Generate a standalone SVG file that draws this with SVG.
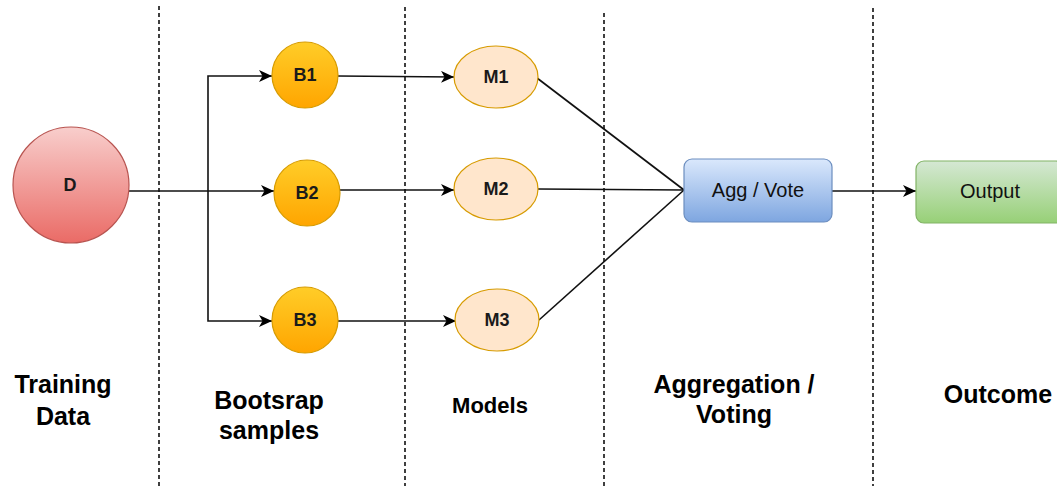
<svg xmlns="http://www.w3.org/2000/svg" width="1057" height="489" viewBox="0 0 1057 489">
  <defs>
    <linearGradient id="gRed" x1="0" y1="0" x2="0" y2="1">
      <stop offset="0" stop-color="#f8cecc"/>
      <stop offset="1" stop-color="#ea6b66"/>
    </linearGradient>
    <linearGradient id="gOrange" x1="0" y1="0" x2="0" y2="1">
      <stop offset="0" stop-color="#ffcd28"/>
      <stop offset="1" stop-color="#ffa500"/>
    </linearGradient>
    <linearGradient id="gBlue" x1="0" y1="0" x2="0" y2="1">
      <stop offset="0" stop-color="#dae8fc"/>
      <stop offset="1" stop-color="#7ea6e0"/>
    </linearGradient>
    <linearGradient id="gGreen" x1="0" y1="0" x2="0" y2="1">
      <stop offset="0" stop-color="#d5e8d4"/>
      <stop offset="1" stop-color="#97d077"/>
    </linearGradient>
    <marker id="arrow" markerUnits="userSpaceOnUse" markerWidth="16" markerHeight="14" refX="13" refY="6" orient="auto">
      <path d="M0,0 L13,6 L0,12 L3.5,6 Z" fill="#000"/>
    </marker>
  </defs>
  <style>
    .sep { stroke: #000; stroke-width: 1.5; stroke-dasharray: 4 3; fill: none; }
    .edge { stroke: #111; stroke-width: 1.6; fill: none; }
    .node-text { font-family: "Liberation Sans", Arial, sans-serif; font-size: 18px; font-weight: bold; fill: #1a1a1a; text-anchor: middle; dominant-baseline: central; }
    .box-text { font-family: "Liberation Sans", Arial, sans-serif; font-size: 20px; fill: #111; text-anchor: middle; dominant-baseline: central; }
    .stage { font-family: "Liberation Sans", Arial, sans-serif; font-size: 25px; font-weight: bold; fill: #000; text-anchor: middle; }
  </style>

  <rect width="1057" height="489" fill="#fff"/>

  <!-- column separators -->
  <g id="separators">
    <line class="sep" x1="159" y1="6" x2="159" y2="486"/>
    <line class="sep" x1="405" y1="7" x2="405" y2="486"/>
    <line class="sep" x1="604" y1="13" x2="604" y2="486"/>
    <line class="sep" x1="873" y1="8" x2="873" y2="486"/>
  </g>

  <!-- connectors -->
  <g id="connectors">
    <polyline class="edge" points="129,191 208,191"/>
    <polyline class="edge" points="208,191 208,76 272,76" marker-end="url(#arrow)"/>
    <polyline class="edge" points="208,191 274,191" marker-end="url(#arrow)"/>
    <polyline class="edge" points="208,191 208,321 272,321" marker-end="url(#arrow)"/>
    <line class="edge" x1="338" y1="76" x2="454" y2="77" marker-end="url(#arrow)"/>
    <line class="edge" x1="340" y1="190" x2="454" y2="190" marker-end="url(#arrow)"/>
    <line class="edge" x1="338" y1="321" x2="456" y2="321" marker-end="url(#arrow)"/>
    <line class="edge" x1="537" y1="78" x2="684" y2="190"/>
    <line class="edge" x1="538" y1="189" x2="684" y2="190"/>
    <line class="edge" x1="539" y1="320" x2="684" y2="190"/>
    <line class="edge" x1="832" y1="191" x2="916" y2="191" marker-end="url(#arrow)"/>
  </g>

  <!-- nodes -->
  <g id="node-D">
    <circle cx="71" cy="185" r="58" fill="url(#gRed)" stroke="#b85450" stroke-width="1.2"/>
    <text class="node-text" x="70" y="185">D</text>
  </g>
  <g id="node-B1">
    <circle cx="305" cy="75" r="33" fill="url(#gOrange)" stroke="#d79b00" stroke-width="1.2"/>
    <text class="node-text" x="305" y="75">B1</text>
  </g>
  <g id="node-B2">
    <circle cx="307" cy="193" r="33" fill="url(#gOrange)" stroke="#d79b00" stroke-width="1.2"/>
    <text class="node-text" x="307" y="193">B2</text>
  </g>
  <g id="node-B3">
    <circle cx="305" cy="320" r="33" fill="url(#gOrange)" stroke="#d79b00" stroke-width="1.2"/>
    <text class="node-text" x="305" y="320">B3</text>
  </g>
  <g id="node-M1">
    <ellipse cx="496" cy="77" rx="42" ry="31" fill="#ffe6cc" stroke="#d79b00" stroke-width="1.2"/>
    <text class="node-text" x="496" y="77">M1</text>
  </g>
  <g id="node-M2">
    <ellipse cx="496" cy="189" rx="42" ry="31" fill="#ffe6cc" stroke="#d79b00" stroke-width="1.2"/>
    <text class="node-text" x="496" y="189">M2</text>
  </g>
  <g id="node-M3">
    <ellipse cx="497" cy="320" rx="42" ry="31" fill="#ffe6cc" stroke="#d79b00" stroke-width="1.2"/>
    <text class="node-text" x="497" y="320">M3</text>
  </g>
  <g id="node-agg">
    <rect x="684" y="159" width="148" height="63" rx="8" fill="url(#gBlue)" stroke="#6c8ebf" stroke-width="1.2"/>
    <text class="box-text" x="758" y="190">Agg / Vote</text>
  </g>
  <g id="node-output">
    <rect x="916" y="161" width="148" height="62" rx="8" fill="url(#gGreen)" stroke="#82b366" stroke-width="1.2"/>
    <text class="box-text" x="990" y="191">Output</text>
  </g>

  <!-- stage labels -->
  <g id="stage-labels">
    <text class="stage" x="63" y="393">Training</text>
    <text class="stage" x="63" y="425">Data</text>
    <text class="stage" x="269" y="409">Bootsrap</text>
    <text class="stage" x="269" y="439">samples</text>
    <text class="stage" x="490" y="413" style="font-size:22px">Models</text>
    <text class="stage" x="734" y="393">Aggregation /</text>
    <text class="stage" x="734" y="423">Voting</text>
    <text class="stage" x="998" y="403">Outcome</text>
  </g>
</svg>
